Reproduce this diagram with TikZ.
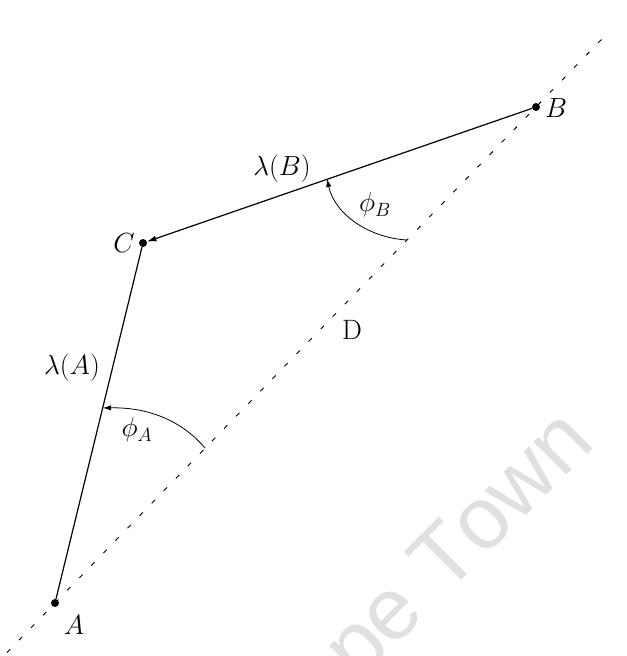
\documentclass[tikz,border=0pt]{standalone}
\usepackage{fontspec}
\usetikzlibrary{arrows.meta,calc}
\newfontfamily\wmfont[Kerning=Off]{Liberation Sans}
\begin{document}
\begin{tikzpicture}[x=0.75pt,y=-0.75pt,
  lbl/.style={inner sep=0pt,font=\fontsize{21}{25}\selectfont},
  seg/.style={line width=0.9pt},
  dotline/.style={line width=0.7pt,dash pattern=on 3.5pt off 9.5pt},
  angarc/.style={line width=0.6pt,-{Latex[length=6pt,width=4pt]}},
  pt/.style={circle,fill=black,inner sep=0pt,minimum size=6pt},
  wmark/.style={font=\wmfont\fontsize{66}{72}\selectfont,text=black!12,rotate=45,inner sep=0pt}]
\useasboundingbox (0,0) rectangle (626,656);
\begin{scope}
\clip (0,0) rectangle (626,656);
\node[wmark,anchor=base west] (wm2) at (445,597) {Town};
\node[wmark,anchor=base east] (wm1) at (wm2.base west) {Cape\kern0.28em};
\end{scope}
% points
\node[pt] (A) at (55,603) {};
\node[pt] (B) at (536,107) {};
\node[pt] (C) at (143,243) {};
% dotted line through A and B
\coordinate (d1) at ($(A)!-0.1!(B)$);
\coordinate (d2) at ($(A)!1.14!(B)$);
\draw[dotline] (d1) -- (d2);
% segments
\draw[seg] (A) -- (C);
\draw[seg,-{Latex[length=7pt,width=4.5pt]}] (B) -- (C);
% angle arcs
\coordinate (pa1) at (205,448);
\coordinate (pa2) at (103,408);
\draw[angarc] (pa1) .. controls (183,422) and (150,407) .. (pa2);
\coordinate (pb1) at (407,240);
\coordinate (pb2) at (327,179);
\draw[angarc] (pb1) .. controls (370,238) and (335,215) .. (pb2);
% labels
\node[lbl] (lA) at (74,625) {$A$};
\node[lbl] (lB) at (556,108) {$B$};
\node[lbl] (lC) at (124,243) {$C$};
\node[lbl] (lamA) at (72,368) {$\lambda(A)$};
\node[lbl] (lamB) at (282,169) {$\lambda(B)$};
\node[lbl] (phA) at (137,430) {$\phi_A$};
\node[lbl] (phB) at (375,205) {$\phi_B$};
\node[lbl] (lD) at (352,330) {D};
\end{tikzpicture}
\end{document}
